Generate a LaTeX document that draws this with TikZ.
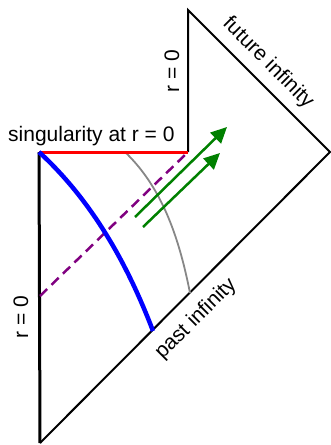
\documentclass[tikz,border=0pt]{standalone}
\usepackage{fontspec}
\setmainfont{Liberation Sans}
\usetikzlibrary{arrows.meta}
\definecolor{pgreen}{RGB}{0,128,0}
\definecolor{ppurple}{RGB}{128,0,128}
\definecolor{pgray}{RGB}{135,135,135}
\tikzset{
  edgeline/.style={line width=2pt, black},
  lbl/.style={inner sep=0pt, font=\fontsize{21}{24}\selectfont},
  ray/.style={line width=2.5pt, pgreen, -{Triangle[length=16pt,width=15pt]}},
}
\begin{document}
\begin{tikzpicture}[x=1pt,y=-1pt]
\useasboundingbox (0,0) rectangle (330,445);
% vertices
\coordinate (sl) at (39,152);
\coordinate (sr) at (188,152);
\coordinate (top) at (188,10);
\coordinate (right) at (330,152);
\coordinate (bot) at (40,443);
% outline
\draw[line width=3pt] (sl) -- (bot);
\draw[edgeline, line join=miter] (sr) -- (top) -- (right) -- (bot);
% dashed null ray
\coordinate (dstart) at (40,296);
\draw[line width=2.5pt, ppurple, dash pattern=on 10pt off 6pt] (dstart) -- (sr);
% gray curve
\coordinate (gs) at (125,152);
\coordinate (ge) at (190,293);
\draw[line width=1.8pt, pgray] (gs) .. controls (161,186.5) and (178.6,235) .. (ge);
% red singularity
\draw[line width=3pt, red] (sl) -- (sr);
% blue curve
\coordinate (be) at (153,331);
\draw[line width=4.5pt, blue] (sl) .. controls (98,206) and (132,276) .. (be);
% green arrows
\coordinate (a1s) at (135,217);
\coordinate (a1e) at (227,127);
\coordinate (a2s) at (143,227);
\coordinate (a2e) at (220,153);
\draw[ray] (a1s) -- (a1e);
\draw[ray] (a2s) -- (a2e);
% labels
\node[lbl, anchor=base west] (sing) at (8,141) {singularity at r = 0};
\node[lbl, rotate=90] (r0l) at (21,317) {r = 0};
\node[lbl, rotate=90] (r0t) at (172,71) {r = 0};
\node[lbl, rotate=-45] (fut) at (268,63) {future infinity};
\node[lbl, rotate=45] (past) at (196,319) {past infinity};
\end{tikzpicture}
\end{document}
